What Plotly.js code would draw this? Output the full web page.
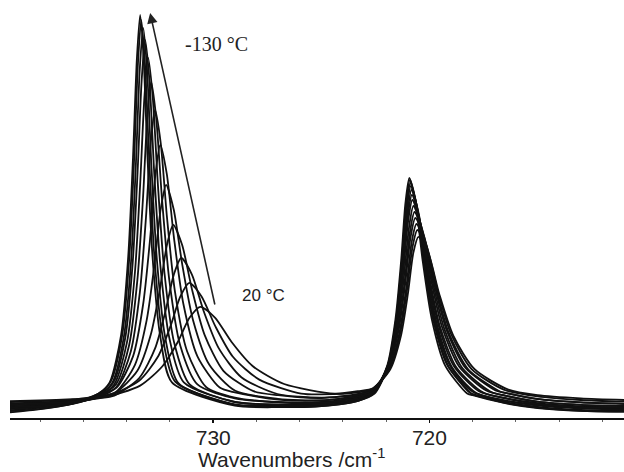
<!DOCTYPE html>
<html>
<head>
<meta charset="utf-8">
<script src="https://cdn.plot.ly/plotly-3.0.1.min.js"></script>
<style>html,body{margin:0;padding:0;background:#fff;}#chart{width:624px;height:472px;}</style>
</head>
<body>
<div id="chart"></div>
<script>
// Shared wavenumber points used for baseline / tail regions (cm-1)
const wnTail = [739.4, 738.0, 736.5, 735.3, 729.0, 727.0, 725.0, 723.3, 718.0, 716.5, 715.0, 713.0, 711.0];

// Curve 1 (-130 °C) ... Curve 13 (20 °C): peak-region points (wavenumber, absorbance) and tail values
const wnC01 = [734.79, 734.26, 733.93, 733.71, 733.53, 733.38, 733.22, 733.04, 732.81, 732.46, 731.91, 722.56, 721.95, 721.57, 721.31, 721.11, 720.93, 720.64, 720.31, 719.89, 719.27, 718.27];
const absC01 = [0.089, 0.208, 0.405, 0.652, 0.899, 1.008, 0.899, 0.652, 0.405, 0.208, 0.089, 0.062, 0.131, 0.247, 0.392, 0.537, 0.600, 0.537, 0.392, 0.247, 0.131, 0.062];
const tailC01 = [0.014, 0.022, 0.036, 0.061, 0.031, 0.027, 0.030, 0.043, 0.057, 0.037, 0.025, 0.018, 0.016];

const wnC02 = [734.74, 734.21, 733.88, 733.66, 733.48, 733.33, 733.16, 732.96, 732.72, 732.35, 731.76, 722.53, 721.92, 721.54, 721.28, 721.08, 720.90, 720.60, 720.26, 719.83, 719.18, 718.15];
const absC02 = [0.091, 0.207, 0.402, 0.645, 0.888, 0.995, 0.888, 0.645, 0.402, 0.207, 0.091, 0.064, 0.133, 0.247, 0.390, 0.533, 0.595, 0.533, 0.390, 0.247, 0.133, 0.064];
const tailC02 = [0.019, 0.026, 0.038, 0.061, 0.034, 0.030, 0.032, 0.045, 0.060, 0.040, 0.028, 0.020, 0.018];

const wnC03 = [734.68, 734.14, 733.80, 733.58, 733.40, 733.24, 733.06, 732.86, 732.60, 732.22, 731.61, 722.54, 721.92, 721.53, 721.27, 721.06, 720.88, 720.57, 720.22, 719.78, 719.12, 718.06];
const absC03 = [0.087, 0.201, 0.392, 0.631, 0.870, 0.975, 0.870, 0.631, 0.392, 0.201, 0.087, 0.061, 0.129, 0.243, 0.384, 0.526, 0.588, 0.526, 0.384, 0.243, 0.129, 0.061];
const tailC03 = [0.017, 0.023, 0.035, 0.057, 0.033, 0.028, 0.030, 0.043, 0.059, 0.038, 0.026, 0.018, 0.016];

const wnC04 = [734.62, 734.07, 733.73, 733.50, 733.31, 733.15, 732.95, 732.73, 732.45, 732.03, 731.36, 722.56, 721.92, 721.52, 721.26, 721.05, 720.86, 720.55, 720.19, 719.74, 719.06, 717.98];
const absC04 = [0.089, 0.200, 0.384, 0.614, 0.844, 0.945, 0.844, 0.614, 0.384, 0.200, 0.089, 0.065, 0.132, 0.243, 0.382, 0.521, 0.580, 0.521, 0.382, 0.243, 0.132, 0.065];
const tailC04 = [0.024, 0.029, 0.039, 0.059, 0.040, 0.034, 0.036, 0.048, null, 0.044, 0.033, 0.026, 0.024];

const wnC05 = [734.58, 733.99, 733.62, 733.38, 733.18, 733.01, 732.80, 732.56, 732.26, 731.81, 731.09, 722.59, 721.93, 721.52, 721.24, 721.02, 720.83, 720.50, 720.13, 719.67, 718.97, 717.85];
const absC05 = [0.084, 0.189, 0.365, 0.584, 0.804, 0.900, 0.804, 0.584, 0.365, 0.189, 0.084, 0.063, 0.128, 0.238, 0.375, 0.512, 0.570, 0.512, 0.375, 0.238, 0.128, 0.063];
const tailC05 = [0.022, 0.027, 0.036, 0.055, 0.040, 0.033, 0.034, 0.047, null, 0.043, 0.031, 0.024, 0.021];

const wnC06 = [734.50, 733.89, 733.51, 733.25, 733.05, 732.87, 732.64, 732.37, 732.03, 731.53, 730.73, 722.60, 721.93, 721.51, 721.23, 721.01, 720.81, 720.47, 720.08, 719.60, 718.87, 717.71];
const absC06 = [0.084, 0.182, 0.344, 0.548, 0.751, 0.840, 0.751, 0.548, 0.344, 0.182, 0.084, 0.067, 0.130, 0.236, 0.369, 0.501, 0.558, 0.501, 0.369, 0.236, 0.130, 0.067];
const tailC06 = [0.029, 0.032, 0.040, 0.056, 0.049, 0.040, 0.040, 0.052, null, 0.050, 0.037, 0.029, 0.027];

const wnC07 = [734.48, 733.81, 733.39, 733.11, 732.89, 732.69, 732.43, 732.14, 731.77, 731.21, 730.32, 722.61, 721.93, 721.50, 721.22, 720.99, 720.79, 720.43, 720.03, 719.52, 718.75, 717.53];
const absC07 = [0.077, 0.167, 0.316, 0.502, 0.688, 0.770, 0.688, 0.502, 0.316, 0.167, 0.077, 0.064, 0.126, 0.230, 0.360, 0.490, 0.545, 0.490, 0.360, 0.230, 0.126, 0.064];
const tailC07 = [0.027, 0.030, 0.038, 0.052, 0.051, 0.039, 0.038, 0.050, null, 0.049, 0.035, 0.027, 0.025];

const wnC08 = [734.47, 733.71, 733.24, 732.92, 732.67, 732.45, 732.15, 731.81, 731.38, 730.73, 729.70, 722.60, 721.90, 721.47, 721.18, 720.94, 720.74, 720.37, 719.95, 719.42, 718.62, 717.35];
const absC08 = [0.076, 0.154, 0.285, 0.448, 0.611, 0.683, 0.611, 0.448, 0.285, 0.154, 0.076, 0.068, 0.128, 0.228, 0.353, 0.478, 0.530, 0.478, 0.353, 0.228, 0.128, 0.068];
const tailC08 = [0.034, 0.037, 0.043, 0.056, 0.064, 0.046, 0.044, 0.055, null, 0.056, 0.041, 0.033, 0.030];

const wnC09 = [734.48, 733.62, 733.08, 732.72, 732.43, 732.18, 731.83, 731.43, 730.93, 730.18, 728.98, 722.61, 721.89, 721.44, 721.14, 720.90, 720.69, 720.30, 719.86, 719.30, 718.47, 717.14];
const absC09 = [0.066, 0.133, 0.244, 0.383, 0.522, 0.583, 0.522, 0.383, 0.244, 0.133, 0.068, 0.065, 0.124, 0.221, 0.343, 0.465, 0.515, 0.465, 0.343, 0.221, 0.124, 0.065];
const tailC09 = [0.032, 0.034, 0.040, 0.051, null, 0.048, 0.044, 0.054, null, 0.056, 0.041, 0.033, 0.030];

const wnC10 = [734.51, 733.51, 732.89, 732.47, 732.14, 731.85, 731.44, 730.98, 730.40, 729.53, 728.14, 722.63, 721.89, 721.43, 721.12, 720.87, 720.65, 720.24, 719.78, 719.20, 718.33, 716.94];
const absC10 = [0.064, 0.118, 0.208, 0.321, 0.433, 0.483, 0.433, 0.321, 0.208, 0.118, 0.067, 0.071, 0.125, 0.219, 0.336, 0.453, 0.500, 0.453, 0.336, 0.219, 0.125, 0.069];
const tailC10 = [0.037, 0.039, 0.044, 0.053, null, 0.057, 0.050, 0.060, null, 0.063, 0.047, 0.039, 0.035];

const wnC11 = [734.58, 733.42, 732.69, 732.21, 731.82, 731.48, 730.99, 730.44, 729.74, 728.70, 727.03, 722.62, 721.86, 721.39, 721.07, 720.82, 720.60, 720.18, 719.70, 719.10, 718.20, 716.76];
const absC11 = [0.056, 0.100, 0.174, 0.267, 0.359, 0.400, 0.359, 0.267, 0.174, 0.102, 0.060, 0.070, 0.121, 0.212, 0.326, 0.440, 0.485, 0.440, 0.326, 0.212, 0.121, 0.067];
const tailC11 = [0.034, 0.037, 0.041, 0.049, null, null, 0.051, 0.058, null, 0.063, 0.048, 0.039, 0.036];

const wnC12 = [734.82, 733.43, 732.56, 731.98, 731.52, 731.11, 730.54, 729.90, 729.09, 727.87, 725.93, 722.61, 721.84, 721.36, 721.04, 720.78, 720.56, 720.12, 719.62, 719.00, 718.06, 716.56];
const absC12 = [0.056, 0.093, 0.153, 0.229, 0.304, 0.338, 0.304, 0.229, 0.153, 0.096, 0.061, 0.074, 0.123, 0.210, 0.319, 0.428, 0.470, 0.428, 0.319, 0.210, 0.123, 0.071];
const tailC12 = [0.040, 0.042, 0.046, 0.054, null, null, 0.059, 0.064, null, null, 0.054, 0.045, 0.041];

const wnC13 = [735.05, 733.38, 732.34, 731.64, 731.09, 730.60, 729.92, 729.15, 728.18, 726.72, 724.39, 722.59, 721.81, 721.32, 721.00, 720.74, 720.51, 720.06, 719.54, 718.89, 717.91, 716.35];
const absC13 = [0.052, 0.081, 0.130, 0.190, 0.251, 0.278, 0.251, 0.190, 0.130, 0.085, 0.061, 0.075, 0.122, 0.205, 0.309, 0.414, 0.453, 0.414, 0.309, 0.205, 0.122, 0.071];
const tailC13 = [0.042, 0.044, 0.047, null, null, null, null, 0.067, null, null, 0.057, 0.049, 0.045];

const tickValues = [730, 720];
const tickLabels = ['730', '720'];
const labelCold = '-130 °C';
const labelWarm = '20 °C';
const axisTitle = 'Wavenumbers /cm<sup>-1</sup>';

const curveSets = [
  [wnC01, absC01, tailC01], [wnC02, absC02, tailC02], [wnC03, absC03, tailC03],
  [wnC04, absC04, tailC04], [wnC05, absC05, tailC05], [wnC06, absC06, tailC06],
  [wnC07, absC07, tailC07], [wnC08, absC08, tailC08], [wnC09, absC09, tailC09],
  [wnC10, absC10, tailC10], [wnC11, absC11, tailC11], [wnC12, absC12, tailC12],
  [wnC13, absC13, tailC13]
];

const traces = curveSets.map(function (set) {
  const wn = set[0], ab = set[1], tail = set[2];
  const pts = wn.map(function (w, i) { return [w, ab[i]]; });
  wnTail.forEach(function (w, i) { if (tail[i] !== null) pts.push([w, tail[i]]); });
  pts.sort(function (a, b) { return b[0] - a[0]; });
  return {
    type: 'scatter', mode: 'lines',
    x: pts.map(function (p) { return p[0]; }),
    y: pts.map(function (p) { return p[1]; }),
    line: { color: '#111', width: 1.8, shape: 'spline', smoothing: 0.7 },
    hoverinfo: 'skip', showlegend: false
  };
});

const sans = 'Liberation Sans, Arial, sans-serif';
const layout = {
  width: 624, height: 472,
  margin: { l: 10, r: 0, t: 10, b: 54 },
  paper_bgcolor: '#fff', plot_bgcolor: '#fff',
  showlegend: false,
  xaxis: {
    range: [739.4, 711.0], showgrid: false, zeroline: false,
    showline: true, linecolor: '#111', linewidth: 2,
    ticks: 'outside', ticklen: 3, tickwidth: 1.5, tickcolor: '#111',
    tickvals: tickValues, ticktext: tickLabels,
    tickfont: { family: sans, size: 21, color: '#222' },
    ticklabelstandoff: -3,
    minor: { dtick: 2, ticks: 'outside', ticklen: 2, tickwidth: 1, tickcolor: '#666' }
  },
  yaxis: { range: [0, 1.02], visible: false, fixedrange: true },
  annotations: [
    {
      x: 732.92, y: 1.0125, ax: 729.91, ay: 0.28, axref: 'x', ayref: 'y',
      xref: 'x', yref: 'y', text: '', showarrow: true,
      arrowhead: 2, arrowsize: 1.3, arrowwidth: 1.6, arrowcolor: '#222', standoff: 0
    },
    {
      x: 729.86, y: 0.935, xref: 'x', yref: 'y', text: labelCold, showarrow: false,
      font: { family: 'Liberation Serif, Times New Roman, serif', size: 20, color: '#222' },
      xanchor: 'center', yanchor: 'middle'
    },
    {
      x: 727.69, y: 0.3075, xref: 'x', yref: 'y', text: labelWarm, showarrow: false,
      font: { family: sans, size: 17, color: '#222' },
      xanchor: 'center', yanchor: 'middle'
    },
    {
      x: 0.458, y: -0.133, xref: 'paper', yref: 'paper', text: axisTitle, showarrow: false,
      font: { family: sans, size: 21, color: '#222' },
      xanchor: 'center', yanchor: 'bottom', borderpad: 0
    }
  ]
};

Plotly.newPlot('chart', traces, layout, { displayModeBar: false, staticPlot: true });
</script>
</body>
</html>
